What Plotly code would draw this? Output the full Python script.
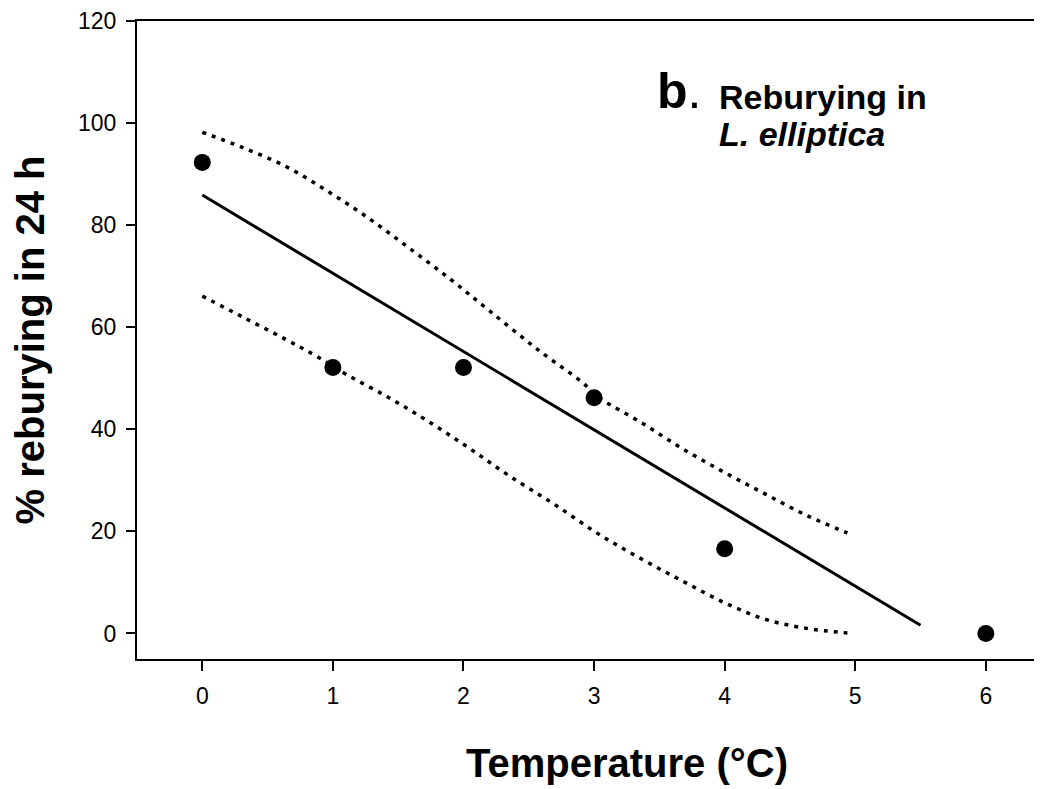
import plotly.graph_objects as go

# Observed data
temp = [0, 1, 2, 3, 4, 6]
rebury = [92.3, 52.1, 52.1, 46.2, 16.6, 0]

# Regression line endpoints
fit_x = [0, 5.5]
fit_y = [85.9, 1.6]

# Confidence band (upper)
up_x = [0, 0.31, 0.64, 0.95, 1.26, 1.58, 1.9, 2.2, 2.58, 2.91, 3.04, 3.37, 3.69, 4.01, 4.32, 4.63, 4.94]
up_y = [98.2, 95.2, 91.5, 86.8, 81.6, 75.6, 69.4, 63.2, 55.4, 49.2, 46.2, 41.2, 36.0, 31.4, 27.2, 23.1, 19.7]

# Confidence band (lower)
lo_x = [0, 0.31, 0.64, 0.87, 1.1, 1.43, 1.74, 2.05, 2.35, 2.69, 3.04, 3.37, 3.69, 4.01, 4.32, 4.63, 4.94]
lo_y = [66.1, 62.0, 57.6, 54.4, 50.8, 46.2, 41.4, 36.2, 30.9, 25.4, 19.4, 14.5, 10.1, 5.9, 2.7, 1.0, 0.1]

x_ticks = [0, 1, 2, 3, 4, 5, 6]
y_ticks = [0, 20, 40, 60, 80, 100, 120]

FONT = "Liberation Sans, Arial, sans-serif"

fig = go.Figure()
for bx, by in [(up_x, up_y), (lo_x, lo_y)]:
    fig.add_trace(go.Scatter(x=bx, y=by, mode="lines", line=dict(color="black", width=3.5, dash="4px,6px", shape="spline"),
                             hoverinfo="skip", showlegend=False))
fig.add_trace(go.Scatter(x=fit_x, y=fit_y, mode="lines", line=dict(color="black", width=3), showlegend=False))
fig.add_trace(go.Scatter(x=temp, y=rebury, mode="markers", marker=dict(color="black", size=17), showlegend=False))

fig.update_layout(
    width=1034, height=781,
    margin=dict(l=129, r=0, t=11, b=130),
    plot_bgcolor="white", paper_bgcolor="white",
    font=dict(family=FONT, color="black"),
    xaxis=dict(range=[-0.5, 6.43], tickvals=x_ticks, ticks="outside", ticklen=10, tickwidth=2, tickcolor="black",
               showline=True, linecolor="black", linewidth=2, mirror=True, showgrid=False, zeroline=False,
               tickfont=dict(size=23, family=FONT), ticklabelstandoff=5),
    yaxis=dict(range=[-5, 120], tickvals=y_ticks, ticks="outside", ticklen=9, tickwidth=2, tickcolor="black",
               showline=True, linecolor="black", linewidth=2, mirror=False, showgrid=False, zeroline=False,
               tickfont=dict(size=23, family=FONT), ticklabelstandoff=5, ticklabeloverflow="allow",
               title=dict(text="<b>% reburying in 24 h</b>", font=dict(size=40, family=FONT), standoff=34)),
)

# x-axis title (offset to the right in the original)
fig.add_annotation(x=0.541, y=-0.163, xref="paper", yref="paper", text="<b>Temperature (°C)</b>", showarrow=False,
                   xanchor="center", yanchor="middle", font=dict(size=40, family=FONT))

fig.add_annotation(x=3.47, y=106.2, xref="x", yref="y", text="<b>b</b>.", showarrow=False,
                   xanchor="left", yanchor="middle", font=dict(size=50, family=FONT))
fig.add_annotation(x=3.94, y=105.2, xref="x", yref="y", text="<b>Reburying in</b>", showarrow=False,
                   xanchor="left", yanchor="middle", font=dict(size=34, family=FONT))
fig.add_annotation(x=3.94, y=97.8, xref="x", yref="y", text="<b><i>L. elliptica</i></b>", showarrow=False,
                   xanchor="left", yanchor="middle", font=dict(size=34, family=FONT))

fig.write_html("out.html")
